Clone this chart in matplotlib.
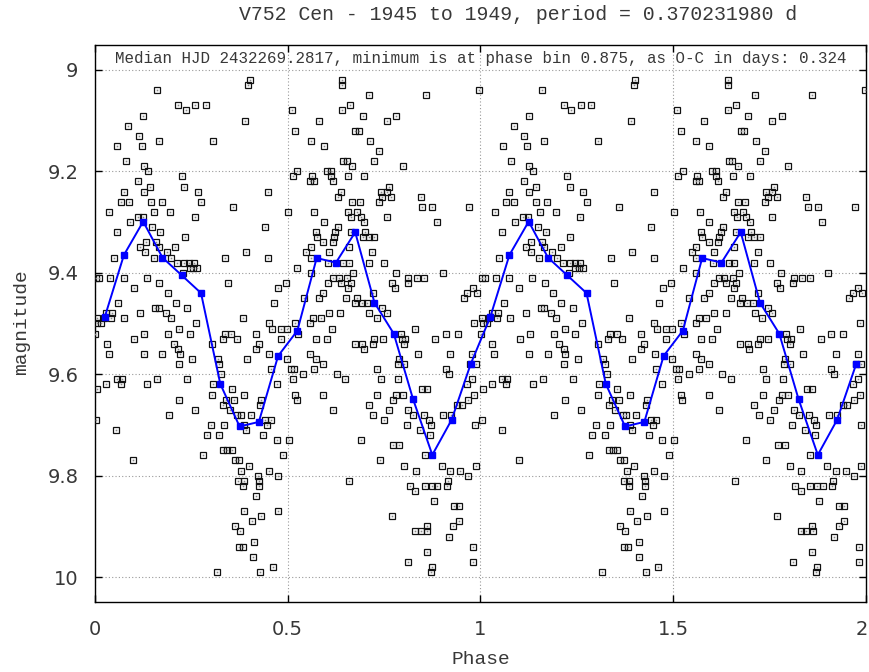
import numpy as np
import matplotlib
matplotlib.use("Agg")
import matplotlib.pyplot as plt
import matplotlib.transforms as mtransforms

# observations, one cycle (phase 0..1); plotted twice
phase = [
    0.160, 0.216, 0.235, 0.125, 0.086, 0.113, 0.058, 0.121, 0.165, 0.080, 0.126, 0.137, 0.225, 0.112,
    0.143, 0.232, 0.074, 0.127, 0.067, 0.088, 0.145, 0.173, 0.037, 0.154, 0.195, 0.111, 0.124, 0.090,
    0.148, 0.057, 0.169, 0.131, 0.159, 0.233, 0.117, 0.130, 0.166, 0.186, 0.208, 0.049, 0.153, 0.198,
    0.213, 0.231, 0.245, 0.257, 0.246, 0.255, 0.265, 0.229, 0.003, 0.011, 0.039, 0.074, 0.134, 0.167,
    0.100, 0.189, 0.060, 0.210, 0.156, 0.166, 0.239, 0.117, 0.184, 0.029, 0.045, 0.004, 0.023, 0.042,
    0.076, 0.197, 0.006, 0.016, 0.219,
    0.001, 0.128, 0.190, 0.246, 0.102, 0.031, 0.204, 0.216, 0.036, 0.127, 0.175, 0.220, 0.252, 0.217,
    0.056, 0.069, 0.162, 0.239, 0.029, 0.067, 0.136, 0.006, 0.218, 0.191, 0.003, 0.055, 0.099,
    0.402, 0.398, 0.260, 0.287, 0.390, 0.511, 0.519, 0.305, 0.513, 0.525, 0.266, 0.449, 0.275, 0.359,
    0.259, 0.501, 0.442, 0.392, 0.338, 0.449, 0.525, 0.346, 0.474, 0.495, 0.464, 0.385, 0.262, 0.451,
    0.458, 0.482, 0.497, 0.520,
    0.337, 0.353, 0.417, 0.331, 0.368, 0.482, 0.425, 0.304, 0.417, 0.318, 0.394, 0.452, 0.497, 0.322,
    0.456, 0.508, 0.516, 0.327, 0.307, 0.471, 0.513, 0.355, 0.304, 0.387, 0.340, 0.360, 0.431, 0.520,
    0.523, 0.333, 0.429, 0.260, 0.350, 0.369, 0.378, 0.404, 0.441, 0.456, 0.300, 0.335, 0.387, 0.392,
    0.447, 0.290, 0.322, 0.437, 0.471, 0.503, 0.333, 0.343, 0.355, 0.281, 0.488, 0.363, 0.373, 0.399,
    0.379, 0.451, 0.424, 0.475, 0.372, 0.386, 0.426, 0.385, 0.426, 0.418, 0.387, 0.476, 0.431, 0.406,
    0.363, 0.376, 0.412, 0.373, 0.383, 0.411, 0.461, 0.316, 0.429,
    0.641, 0.641, 0.712, 0.662, 0.642, 0.694, 0.580, 0.757, 0.675, 0.684, 0.560, 0.714, 0.594, 0.737,
    0.644, 0.653, 0.724, 0.667, 0.601, 0.611, 0.562, 0.558, 0.568, 0.611, 0.617, 0.656, 0.698, 0.762,
    0.638, 0.630, 0.741, 0.757, 0.667, 0.687, 0.737, 0.745, 0.569, 0.657, 0.680, 0.665, 0.690, 0.757,
    0.594, 0.698, 0.630, 0.573, 0.623, 0.664, 0.701, 0.575, 0.619, 0.694, 0.710, 0.724, 0.592, 0.617,
    0.658, 0.560, 0.548, 0.560, 0.607, 0.719, 0.604, 0.644, 0.658, 0.710, 0.750, 0.560, 0.670, 0.618,
    0.632, 0.654, 0.605, 0.637, 0.663, 0.657, 0.541, 0.581, 0.592, 0.650, 0.679, 0.674, 0.692, 0.706,
    0.720, 0.711, 0.731, 0.745, 0.757, 0.566, 0.586, 0.607, 0.636, 0.558, 0.614,
    0.527, 0.573, 0.601, 0.724, 0.747, 0.674, 0.693, 0.720, 0.697, 0.558, 0.573, 0.592, 0.568, 0.732,
    0.540, 0.627, 0.649, 0.741, 0.592, 0.732, 0.710, 0.618, 0.722, 0.750, 0.762, 0.689, 0.740, 0.659,
    0.859, 0.997, 0.782, 0.798, 0.768, 0.845, 0.849, 0.875, 0.971, 0.886, 0.780, 0.902, 0.813, 0.835,
    0.854, 0.770, 0.777, 0.811, 0.980, 0.957, 0.966, 0.990, 0.830, 0.984,
    0.793, 0.796, 0.805, 0.802, 0.882, 0.910, 0.941, 0.837, 0.922, 0.978, 0.789, 0.787, 0.802, 0.973,
    0.988, 0.910, 0.917, 0.785, 0.978, 0.966, 0.848, 0.860, 0.781, 0.798, 0.774, 0.984, 0.968, 0.940,
    0.952, 0.812, 0.826, 0.853, 0.904, 0.924, 0.866, 0.809, 0.871, 0.986, 0.843, 0.869, 0.772, 0.789,
    0.856, 0.802, 0.900, 0.988, 0.832, 0.922, 0.947, 0.968, 0.915, 0.817, 0.831, 0.856, 0.873, 0.888,
    0.913, 0.879, 0.770, 0.930, 0.943, 0.943, 0.929, 0.860, 0.831, 0.845, 0.862, 0.918, 0.981, 0.860,
    0.811, 0.981, 0.873, 0.871,
]
mag = [
    9.04, 9.07, 9.08, 9.09, 9.11, 9.13, 9.15, 9.15, 9.14, 9.18, 9.19, 9.20, 9.21, 9.22,
    9.23, 9.23, 9.24, 9.24, 9.26, 9.26, 9.26, 9.26, 9.28, 9.28, 9.28, 9.29, 9.29, 9.30,
    9.31, 9.32, 9.32, 9.34, 9.34, 9.33, 9.35, 9.36, 9.35, 9.36, 9.35, 9.37, 9.37, 9.37,
    9.38, 9.38, 9.38, 9.38, 9.39, 9.39, 9.39, 9.40, 9.41, 9.41, 9.41, 9.41, 9.41, 9.42,
    9.43, 9.44, 9.46, 9.46, 9.47, 9.47, 9.47, 9.48, 9.48, 9.48, 9.48, 9.49, 9.49, 9.49,
    9.49, 9.49, 9.50, 9.50, 9.51,
    9.52, 9.52, 9.52, 9.52, 9.53, 9.54, 9.54, 9.55, 9.56, 9.56, 9.56, 9.56, 9.57, 9.58,
    9.61, 9.61, 9.61, 9.61, 9.62, 9.62, 9.62, 9.63, 9.65, 9.68, 9.69, 9.71, 9.77,
    9.02, 9.03, 9.07, 9.07, 9.10, 9.08, 9.12, 9.14, 9.21, 9.20, 9.24, 9.24, 9.26, 9.27,
    9.29, 9.28, 9.31, 9.36, 9.37, 9.37, 9.39, 9.42, 9.43, 9.42, 9.46, 9.49, 9.50, 9.50,
    9.51, 9.51, 9.51, 9.50,
    9.52, 9.52, 9.52, 9.53, 9.53, 9.53, 9.54, 9.54, 9.55, 9.57, 9.57, 9.56, 9.57, 9.58,
    9.59, 9.59, 9.59, 9.60, 9.62, 9.62, 9.61, 9.63, 9.64, 9.64, 9.65, 9.65, 9.65, 9.64,
    9.65, 9.66, 9.66, 9.67, 9.67, 9.68, 9.68, 9.68, 9.69, 9.69, 9.70, 9.70, 9.70, 9.71,
    9.70, 9.72, 9.72, 9.72, 9.73, 9.73, 9.75, 9.75, 9.75, 9.76, 9.76, 9.77, 9.77, 9.78,
    9.79, 9.79, 9.80, 9.80, 9.81, 9.81, 9.81, 9.82, 9.82, 9.84, 9.87, 9.87, 9.88, 9.89,
    9.90, 9.91, 9.93, 9.94, 9.94, 9.96, 9.98, 9.99, 9.99,
    9.02, 9.03, 9.05, 9.07, 9.08, 9.09, 9.10, 9.10, 9.12, 9.12, 9.14, 9.14, 9.15, 9.16,
    9.18, 9.18, 9.18, 9.19, 9.20, 9.20, 9.21, 9.22, 9.22, 9.21, 9.22, 9.21, 9.21, 9.23,
    9.24, 9.25, 9.24, 9.24, 9.26, 9.26, 9.26, 9.25, 9.28, 9.28, 9.28, 9.29, 9.29, 9.29,
    9.30, 9.30, 9.31, 9.32, 9.32, 9.32, 9.32, 9.33, 9.33, 9.33, 9.33, 9.33, 9.34, 9.34,
    9.35, 9.35, 9.36, 9.37, 9.36, 9.36, 9.38, 9.38, 9.38, 9.38, 9.38, 9.40, 9.40, 9.41,
    9.41, 9.41, 9.42, 9.42, 9.42, 9.43, 9.45, 9.45, 9.44, 9.45, 9.45, 9.46, 9.46, 9.46,
    9.44, 9.48, 9.49, 9.47, 9.48, 9.49, 9.49, 9.48, 9.48, 9.50, 9.51,
    9.52, 9.53, 9.53, 9.53, 9.53, 9.54, 9.54, 9.54, 9.55, 9.56, 9.57, 9.58, 9.59, 9.59,
    9.60, 9.60, 9.61, 9.61, 9.64, 9.64, 9.66, 9.67, 9.68, 9.69, 9.67, 9.73, 9.77, 9.81,
    9.05, 9.04, 9.09, 9.19, 9.25, 9.25, 9.27, 9.27, 9.27, 9.30, 9.40, 9.40, 9.41, 9.41,
    9.41, 9.42, 9.43, 9.42, 9.43, 9.45, 9.44, 9.44, 9.51, 9.50,
    9.52, 9.53, 9.53, 9.54, 9.53, 9.52, 9.52, 9.56, 9.56, 9.56, 9.57, 9.58, 9.58, 9.58,
    9.58, 9.59, 9.60, 9.61, 9.61, 9.62, 9.63, 9.63, 9.64, 9.64, 9.65, 9.64, 9.65, 9.66,
    9.66, 9.67, 9.68, 9.68, 9.68, 9.68, 9.69, 9.70, 9.70, 9.70, 9.71, 9.72, 9.74, 9.74,
    9.76, 9.78, 9.78, 9.78, 9.79, 9.79, 9.79, 9.80, 9.81, 9.82, 9.83, 9.82, 9.82, 9.82,
    9.82, 9.85, 9.88, 9.86, 9.86, 9.89, 9.90, 9.90, 9.91, 9.91, 9.91, 9.92, 9.94, 9.95,
    9.97, 9.97, 9.98, 9.99,
]

# binned means (bin width 0.05)
bin_phase = [0.025, 0.075, 0.125, 0.175, 0.225, 0.275, 0.325, 0.375, 0.425, 0.475,
             0.525, 0.575, 0.625, 0.675, 0.725, 0.775, 0.825, 0.875, 0.925, 0.975]
bin_mag = [9.488, 9.365, 9.299, 9.370, 9.405, 9.440, 9.619, 9.703, 9.694, 9.564,
           9.514, 9.371, 9.380, 9.320, 9.459, 9.520, 9.649, 9.759, 9.690, 9.579]

x_ticks = [0, 0.5, 1, 1.5, 2]
x_labels = ["0", "0.5", "1", "1.5", "2"]
y_ticks = [9, 9.2, 9.4, 9.6, 9.8, 10]
y_labels = ["9", "9.2", "9.4", "9.6", "9.8", "10"]

title = "V752 Cen - 1945 to 1949, period = 0.370231980 d"
note = "Median HJD 2432269.2817, minimum is at phase bin 0.875, as O-C in days: 0.324"

ph = np.array(phase)
mg = np.array(mag)
bph = np.array(bin_phase)
bmg = np.array(bin_mag)

txt = "#383838"
mono = "Liberation Mono"

fig = plt.figure(figsize=(8.7, 6.72), dpi=100)
ax = fig.add_axes([95 / 870, 70 / 672, 771 / 870, 557 / 672])

all_ph = np.concatenate([ph, ph + 1])
all_mg = np.concatenate([mg, mg])
ax.plot(all_ph, all_mg, ls="none", marker="s", ms=5, mfc="none", mec="#111111", mew=0.9, zorder=3)
ax.plot(all_ph, all_mg, ls="none", marker="s", ms=1.2, mfc="#888888", mec="none", zorder=3)

ax.plot(np.concatenate([bph, bph + 1]), np.concatenate([bmg, bmg]),
        color="#0000ff", lw=1.4, marker="s", ms=4.5, zorder=4)

ax.set_xlim(0, 2)
ax.set_ylim(10.049, 8.951)
ax.set_xticks(x_ticks)
ax.set_xticklabels(x_labels)
ax.set_yticks(y_ticks)
ax.set_yticklabels(y_labels)
ax.tick_params(direction="in", length=5, width=1, top=True, right=True,
               labelsize=14, labelcolor=txt, color="black")
ax.tick_params(axis="x", pad=13)
ax.tick_params(axis="y", pad=12)
ax.grid(True, color="#999999", lw=0.8, ls=(0, (1, 2)))
for s in ax.spines.values():
    s.set_linewidth(1)
    s.set_color("black")

# keep the last x label inside the canvas
last = ax.get_xticklabels()[-1]
last.set_transform(last.get_transform() + mtransforms.ScaledTranslation(-4 / 100, 0, fig.dpi_scale_trans))

ax.text(0.5, 0.975, note, transform=ax.transAxes, ha="center", va="center",
        fontsize=11.45, family=mono, color=txt, zorder=5)

fig.text(518 / 870, 1 - 14 / 672, title, ha="center", va="center", fontsize=14.3, family=mono, color=txt)
fig.text(481 / 870, 1 - 660 / 672, "Phase", ha="center", va="center", fontsize=14, family=mono, color=txt)
fig.text(22 / 870, 1 - 322 / 672, "magnitude", ha="center", va="center", rotation=90,
         fontsize=14, family=mono, color=txt)

fig.savefig("out.png", dpi=100)
